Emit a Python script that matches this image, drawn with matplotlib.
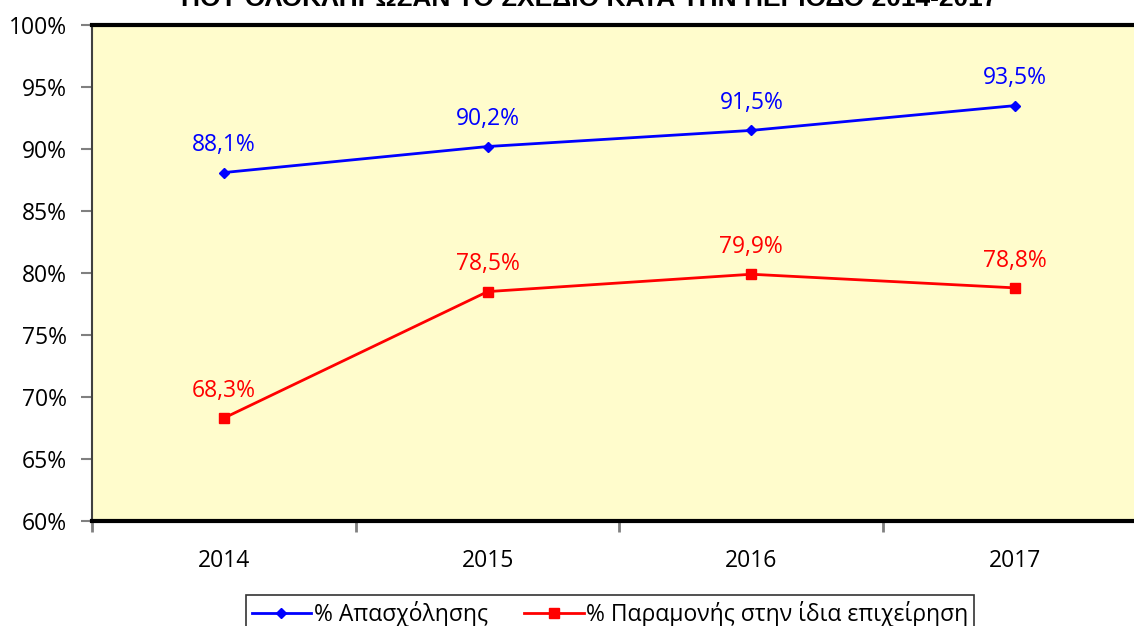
import matplotlib.pyplot as plt
from matplotlib.ticker import FuncFormatter

plt.rcParams['font.family'] = ['Open Sans', 'DejaVu Sans']

years = ['2014', '2015', '2016', '2017']
employment = [88.1, 90.2, 91.5, 93.5]
retention = [68.3, 78.5, 79.9, 78.8]

fig = plt.figure(figsize=(11.34, 6.26), dpi=100)
ax = fig.add_axes([92 / 1134, 1 - 521 / 626, 1055 / 1134, 496 / 626])
ax.set_facecolor('#FFFCCC')

x = range(len(years))
ax.plot(x, employment, color='#0000FF', lw=2, marker='D', ms=5.5,
        label='% Απασχόλησης', clip_on=False)
ax.plot(x, retention, color='#FF0000', lw=2, marker='s', ms=6.5,
        label='% Παραμονής στην ίδια επιχείρηση', clip_on=False)

fs = 16.5
for xi, v in zip(x, employment):
    ax.annotate(f'{v:.1f}%'.replace('.', ','), (xi, v), xytext=(0, 11),
                textcoords='offset points', ha='center', va='bottom',
                color='#0000FF', fontsize=fs)
for xi, v in zip(x, retention):
    ax.annotate(f'{v:.1f}%'.replace('.', ','), (xi, v), xytext=(0, 11),
                textcoords='offset points', ha='center', va='bottom',
                color='#FF0000', fontsize=fs)

ax.set_xlim(-0.5, 3.5)
ax.set_ylim(60, 100)
ax.set_yticks(range(60, 101, 5))
ax.yaxis.set_major_formatter(FuncFormatter(lambda v, p: f'{v:.0f}%'))
# category boundaries get the tick marks, year labels sit between them
ax.set_xticks([i - 0.5 for i in range(5)], minor=False)
ax.set_xticklabels([])
ax.set_xticks(list(x), minor=True)
ax.set_xticklabels(years, minor=True)
ax.tick_params(axis='x', which='minor', length=0, pad=20, labelsize=fs)
ax.tick_params(axis='x', which='major', length=8, width=2, color='#808080')
ax.tick_params(axis='y', length=8, width=1.5, color='#808080', labelsize=fs, pad=10)

for side in ['top', 'bottom']:
    ax.spines[side].set_linewidth(3)
    ax.spines[side].set_color('black')
ax.spines['left'].set_linewidth(1.5)
ax.spines['left'].set_color('#404040')
ax.spines['right'].set_visible(False)

leg = fig.legend(loc='upper center', bbox_to_anchor=(610 / 1134, 1 - 595 / 626),
                 ncol=2, frameon=True, fancybox=False, edgecolor='black',
                 fontsize=16.5, handlelength=2.6, handletextpad=0.1,
                 columnspacing=1.6, borderpad=0.25, borderaxespad=0)
leg.get_frame().set_linewidth(1.2)

fig.text(589 / 1134, 1 - 6 / 626,
         'ΠΟΥ ΟΛΟΚΛΗΡΩΣΑΝ ΤΟ ΣΧΕΔΙΟ ΚΑΤΑ ΤΗΝ ΠΕΡΙΟΔΟ 2014-2017',
         ha='center', va='baseline', fontsize=19, fontweight='bold',
         family='Liberation Sans')

fig.savefig('out.png', dpi=100)
